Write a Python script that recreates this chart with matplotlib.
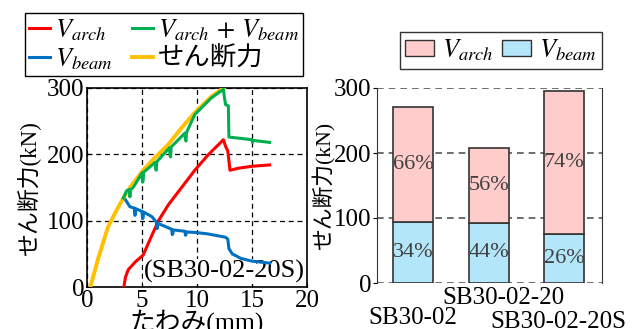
import matplotlib
matplotlib.use('Agg')
from matplotlib import pyplot as plt
from matplotlib.patches import Patch
import numpy as np

plt.rcParams['font.family'] = ['Liberation Serif', 'Noto Sans CJK JP']
plt.rcParams['mathtext.fontset'] = 'stix'

# left chart: shear force vs deflection (mm, kN)
shear_x = [0.3, 1.0, 1.9, 2.6, 3.3, 4.0, 5.1, 6.0, 7.4, 8.5, 9.8, 11.3, 12.4]
shear_y = [0, 42, 90, 113, 134, 152, 176, 192, 215, 238, 263, 287, 300]

total_x = [3.3, 3.6, 3.85, 3.9, 3.95, 4.2, 5.0, 5.05, 5.1, 5.15, 6.2, 6.25, 6.3,
           6.35, 7.5, 7.55, 7.6, 7.65, 8.9, 8.95, 9.0, 9.05, 9.8, 11.3, 12.4,
           12.5, 12.6, 12.85, 12.9, 14.0, 15.0, 15.05, 15.1, 16.6]
total_y = [134, 145, 147, 136, 146, 150, 172, 158, 160, 173, 188, 178, 176,
           189, 210, 198, 196, 211, 232, 222, 220, 233, 260, 285, 298,
           285, 275, 273, 226, 224, 222, 218, 221, 218]

arch_x = [3.35, 3.5, 3.75, 4.4, 5.1, 5.9, 6.5, 7.4, 8.6, 9.8, 11.0, 12.4,
          12.6, 12.8, 13.0, 13.75, 15.0, 16.6]
arch_y = [0, 15, 26, 38, 48, 78, 100, 124, 150, 176, 199, 222,
          212, 205, 176, 179, 182, 184]

beam_x = [3.4, 3.9, 4.3, 4.35, 4.4, 4.45, 5.0, 5.05, 5.1, 5.15, 5.9, 6.3, 6.35,
          6.4, 6.45, 7.0, 7.7, 7.75, 7.8, 7.85, 8.9, 8.95, 9.0, 9.05, 10.0,
          11.0, 12.6, 12.8, 12.9, 13.2, 14.0, 15.0, 16.6]
beam_y = [134, 121, 119, 108, 109, 118, 114, 103, 104, 113, 106, 98, 88,
          89, 96, 92, 87, 79, 80, 86, 84, 78, 79, 83, 82,
          80, 75, 72, 58, 50, 43, 39, 36]

# right chart: stacked bars
specimens = ['SB30-02', 'SB30-02-20', 'SB30-02-20S']
v_beam = [94, 93, 76]
v_arch = [177, 114, 219]
beam_pct = ['34%', '44%', '26%']
arch_pct = ['66%', '56%', '74%']

fig = plt.figure(figsize=(6.39, 3.29), dpi=100)
ax1 = fig.add_axes([87 / 639, 1 - 287 / 329, 220 / 639, 199 / 329])
ax2 = fig.add_axes([377 / 639, 1 - 283 / 329, 225 / 639, 195 / 329])

lw = 2.2
l_arch, = ax1.plot(arch_x, arch_y, color='#ff0000', lw=lw, zorder=3)
l_beam, = ax1.plot(beam_x, beam_y, color='#0070c0', lw=lw, zorder=3)
l_shear, = ax1.plot(shear_x, shear_y, color='#ffc000', lw=lw + 0.6, zorder=3)
l_total, = ax1.plot(total_x, total_y, color='#00b050', lw=lw, zorder=3)
ax1.set_xlim(0, 20)
ax1.set_ylim(0, 300)
ax1.set_xticks([0, 5, 10, 15, 20])
ax1.set_yticks([0, 100, 200, 300])
ax1.grid(True, color='black', linestyle=(0, (4, 3)), lw=0.9)
ax1.tick_params(labelsize=18, length=3, direction='in', pad=2)
for s in ax1.spines.values():
    s.set_linewidth(1.2)
ax1.set_xlabel('たわみ(mm)', fontsize=18.5, labelpad=-2)
ax1.set_ylabel('せん断力(kN)', fontsize=16.5, labelpad=4)
ax1.text(0.99, 0.02, '(SB30-02-20S)', transform=ax1.transAxes, fontsize=19,
         ha='right', va='bottom', zorder=2,
         bbox=dict(facecolor='white', edgecolor='none', pad=0.3))
ax1.legend([l_arch, l_beam, l_total, l_shear],
           ['$V_{arch}$', '$V_{beam}$', r'$V_{arch}\,+\,V_{beam}$', 'せん断力'],
           ncol=2, loc='lower center', bbox_to_anchor=(0.35, 1.06),
           frameon=True, fancybox=False, edgecolor='black', framealpha=1,
           handlelength=0.8, handletextpad=0.2, columnspacing=0.7,
           labelspacing=0.15, borderpad=0.15, borderaxespad=0,
           prop={'size': 19})

idx = np.arange(len(specimens))
ax2.bar(idx, v_beam, width=0.53, color='#b4e6fa', edgecolor='#333333', lw=1.2, zorder=3)
ax2.bar(idx, v_arch, bottom=v_beam, width=0.53, color='#ffcccc',
        edgecolor='#333333', lw=1.2, zorder=3)
for i in idx:
    ax2.text(i, v_beam[i] / 2, beam_pct[i], ha='center', va='center',
             fontsize=16, color='#404040', zorder=4)
    ax2.text(i, v_beam[i] + v_arch[i] / 2, arch_pct[i], ha='center', va='center',
             fontsize=16, color='#404040', zorder=4)
ax2.set_xlim(-0.48, 2.5)
ax2.set_ylim(0, 300)
ax2.set_yticks([0, 100, 200, 300])
ax2.set_xticks([])
ax2.grid(True, axis='y', color='#555555', linestyle=(0, (4, 3)), lw=1.2, zorder=0)
ax2.set_axisbelow(True)
ax2.spines['top'].set_visible(False)
ax2.spines['bottom'].set_visible(False)
ax2.spines['left'].set_color('#333333')
ax2.spines['right'].set_color('#333333')
ax2.tick_params(labelsize=18, length=3, pad=1)
ax2.set_ylabel('せん断力(kN)', fontsize=15.7, labelpad=-1)
# staggered specimen names below the bars
label_dx = [0, 0.2, -0.08]
label_y = [-0.18, -0.075, -0.2]
for i in idx:
    ax2.text(i + label_dx[i], label_y[i], specimens[i], transform=ax2.get_xaxis_transform(),
             ha='center', va='center', fontsize=18)
ax2.legend([Patch(facecolor='#ffcccc', edgecolor='#333333'),
            Patch(facecolor='#b4e6fa', edgecolor='#333333')],
           ['$V_{arch}$', '$V_{beam}$'], ncol=2,
           loc='lower center', bbox_to_anchor=(0.55, 1.1), frameon=True,
           fancybox=False, edgecolor='#333333', framealpha=1,
           handlelength=1.1, handleheight=0.55, handletextpad=0.3,
           columnspacing=0.3, borderpad=0.2, borderaxespad=0,
           prop={'size': 19})

fig.savefig('out.png', dpi=100)
